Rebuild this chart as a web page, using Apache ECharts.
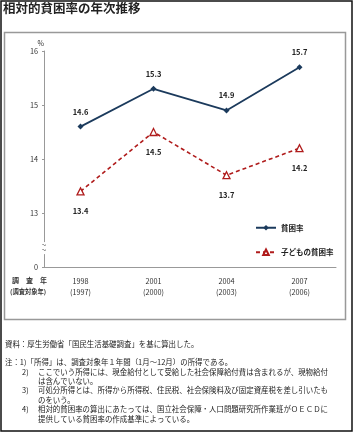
<!DOCTYPE html>
<html><head><meta charset="utf-8">
<script src="https://cdn.jsdelivr.net/npm/echarts@6/dist/echarts.min.js"></script>
<style>html,body{margin:0;padding:0;background:#fff}#c{width:355px;height:432px}</style>
</head><body><div id="c"></div>
<script>
const years = ['1998','2001','2004','2007'];
const targetYears = ['(1997)','(2000)','(2003)','(2006)'];
const povertyRate = [14.6, 15.3, 14.9, 15.7];
const childPovertyRate = [13.4, 14.5, 13.7, 14.2];
const seriesNames = ['貧困率','子どもの貧困率'];
const yTicks = [12, 13, 14, 15, 16];
const titleText = '相対的貧困率の年次推移';
const notes = [
  ['資料：厚生労働省「国民生活基礎調査」を基に算出した。', 5, 345],
  ['注：1)「所得」は、調査対象年１年間（1月～12月）の所得である。', 5, 363],
  ['2)', 22, 373],
  ['ここでいう所得には、現金給付として受給した社会保障給付費は含まれるが、現物給付', 38, 373],
  ['は含んでいない。', 38, 382],
  ['3)', 22, 391],
  ['可処分所得とは、所得から所得税、住民税、社会保険料及び固定資産税を差し引いたも', 38, 391],
  ['のをいう。', 38, 401],
  ['4)', 22, 410],
  ['相対的貧困率の算出にあたっては、国立社会保障・人口問題研究所作業班がＯＥＣＤに', 38, 410],
  ['提供している貧困率の作成基準によっている。', 38, 420]
];
const FONT = '"Noto Sans CJK JP", "Noto Sans", sans-serif';
const chart = echarts.init(document.getElementById('c'));
const graphics = [
  {type:'rect', shape:{x:1,y:1,width:351,height:430}, style:{fill:'none',stroke:'#111',lineWidth:1.5}, z:0},
  {type:'rect', shape:{x:4.5,y:32.5,width:341,height:287}, style:{fill:'none',stroke:'#999',lineWidth:1.5}, z:0},
  {type:'text', left:3, top:2, style:{text:titleText, font:'bold 12.5px '+FONT, fill:'#222'}},
  {type:'text', left:12, top:277, style:{text:'調　査　年', font:'bold 7px '+FONT, fill:'#333'}},
  {type:'text', left:10, top:288, style:{text:'(調査対象年)', font:'bold 6.3px '+FONT, fill:'#333'}}
];
notes.forEach(n => graphics.push({type:'text', left:n[1], top:n[2]-5, style:{text:n[0], font:'7.45px '+FONT, fill:'#222'}}));
chart.setOption({
  animation:false,
  textStyle:{fontFamily:FONT},
  grid:{left:44, right:19, top:51, bottom:165, containLabel:false},
  legend:{orient:'vertical', left:250, top:219, itemGap:17, itemWidth:20, itemHeight:7,
    textStyle:{fontSize:7.5, fontWeight:'bold', color:'#222'}, data:seriesNames},
  xAxis:{type:'category', data:years, boundaryGap:true,
    axisLine:{lineStyle:{color:'#999', width:1}}, axisTick:{show:false},
    axisLabel:{margin:9, fontSize:7.3, color:'#333', lineHeight:11,
      formatter:(v,i)=> v + '\n' + targetYears[i]}},
  yAxis:{type:'value', min:12, max:16, interval:1, name:'%', nameGap:4,
    nameTextStyle:{fontSize:7, color:'#333', align:'right', padding:[0,0,0,0]},
    splitLine:{show:false},
    axisLine:{show:true, lineStyle:{color:'#999', width:1}},
    axisTick:{show:true, length:2, lineStyle:{color:'#999'}},
    axisLabel:{margin:6, fontSize:7.3, color:'#333', formatter:v=> v===yTicks[0] ? '0' : String(v)}},
  series:[
    {name:seriesNames[0], type:'line', data:povertyRate, symbol:'diamond', symbolSize:6,
      lineStyle:{color:'#1b3a5c', width:1.8}, itemStyle:{color:'#1b3a5c'},
      label:{show:true, position:'top', distance:8, fontSize:7.5, color:'#222', fontWeight:'bold'}},
    {name:seriesNames[1], type:'line', data:childPovertyRate, symbol:'triangle', symbolSize:7,
      lineStyle:{color:'#b01c1c', width:1.6, type:[4,3]},
      itemStyle:{color:'#fff', borderColor:'#b01c1c', borderWidth:1.3},
      label:{show:true, position:'bottom', distance:12, fontSize:7.5, color:'#222', fontWeight:'bold'}}
  ],
  graphic:graphics
});
const p = chart.convertToPixel({gridIndex:0}, [0, 12.35]);
const gx = chart.getModel().getComponent('grid').coordinateSystem.getRect().x;
graphics.push(
  {type:'rect', shape:{x:gx-3, y:p[1]-6, width:6, height:12}, style:{fill:'#fff'}, z:10},
  {type:'text', x:gx, y:p[1]-3, style:{text:'~', font:'8px '+FONT, fill:'#555', align:'center', verticalAlign:'middle'}, z:11},
  {type:'text', x:gx, y:p[1]+2, style:{text:'~', font:'8px '+FONT, fill:'#555', align:'center', verticalAlign:'middle'}, z:11}
);
chart.setOption({graphic:graphics});
</script></body></html>
